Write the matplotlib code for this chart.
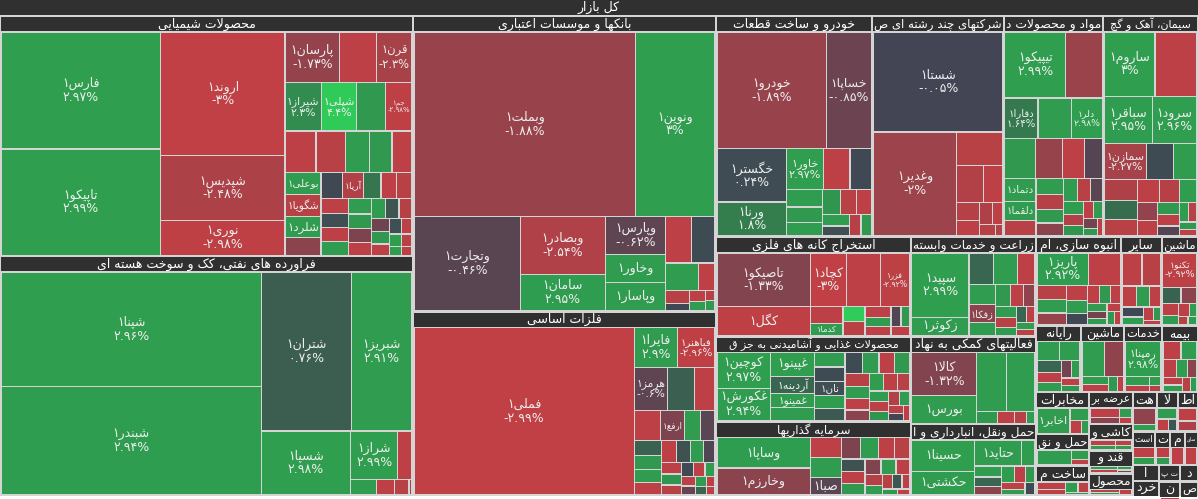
import matplotlib
matplotlib.use("Agg")
import matplotlib.pyplot as plt
from matplotlib.patches import Rectangle
from matplotlib.colors import LinearSegmentedColormap

plt.rcParams['font.family'] = ['DejaVu Sans']

# ---- data: (symbol, change %, market value) per sector ----
title = "کل بازار"

chem = [("فارس۱", 2.97, 20.3), ("تاپیکو۱", 2.99, 18.4), ("اروند۱", -3.0, 16.7), ("شپدیس۱", -2.48, 8.7),
        ("نوری۱", -2.98, 4.7), ("پارسان۱", -1.73, 3.0), ("", -2.9, 2.05), ("قرن۱", -2.3, 1.95),
        ("شیراز۱", 2.3, 1.9), ("شپلی۱", 4.4, 1.85), ("", 2.8, 1.5), ("جم۱", -2.98, 1.4),
        ("", -2.9, 1.38), ("", -2.8, 1.33), ("", 2.9, 1.06), ("", 2.8, 1.01), ("", -2.9, 0.9),
        ("بوعلی۱", 2.9, 0.87), ("شگویا۱", -2.8, 0.85), ("شلرد۱", 2.9, 0.83), ("", -1.5, 0.68),
        ("", 0.1, 0.62), ("آریا۱", -2.6, 0.6), ("", 1.5, 0.5), ("", -2.9, 0.45),
        ("", -2.8, 0.44), ("", -2.9, 0.43), ("", 0.3, 0.43), ("", -2.9, 0.42), ("", 2.9, 0.4), ("", 2.9, 0.38),
        ("", 2.8, 0.36), ("", -1.2, 0.34), ("", -2.9, 0.32), ("", 2.9, 0.3), ("", 0.5, 0.3), ("", -2.7, 0.28),
        ("", -0.9, 0.26), ("", 2.8, 0.24), ("", -2.9, 0.22), ("", 0.3, 0.2), ("", -2.9, 0.18), ("", 2.9, 0.16),
        ("", -2.8, 0.14), ("", 2.9, 0.12), ("", -2.9, 0.1)]
oil = [("شپنا۱", 2.96, 32.3), ("شبندر۱", 2.94, 30.7), ("شتران۱", 0.76, 15.5), ("شبریز۱", 2.91, 10.5),
       ("شسپا۱", 2.98, 6.2), ("شراز۱", 2.99, 2.5), ("", -2.9, 0.75), ("", 2.9, 0.43), ("", -2.9, 0.29),
       ("", -2.8, 0.24), ("", -2.5, 0.05)]
banks = [("وبملت۱", -1.88, 43.8), ("ونوین۱", 3.0, 15.7), ("وتجارت۱", -0.46, 10.8), ("وبصادر۱", -2.54, 5.25),
         ("سامان۱", 2.95, 3.31), ("وپارس۱", -0.62, 2.45), ("وخاور۱", 2.9, 1.85), ("وپاسار۱", 2.9, 1.82),
         ("", -2.9, 1.31), ("", 0.2, 1.16), ("", 2.9, 0.97), ("", -2.9, 0.5), ("", -2.8, 0.32), ("", 0.1, 0.2),
         ("", -2.9, 0.18), ("", 2.9, 0.16), ("", -2.7, 0.1), ("", 2.8, 0.1)]
metals = [("فملی۱", -2.99, 41.0), ("فایرا۱", 2.9, 1.9), ("فباهنر۱", -2.96, 1.65), ("هرمز۱", -0.6, 1.6),
          ("", 0.8, 1.3), ("", -2.9, 1.0), ("", -2.9, 0.87), ("ارفع۱", -1.2, 0.8), ("", 2.9, 0.55),
          ("", -0.5, 0.48), ("", 0.9, 0.45), ("", 2.8, 0.42), ("", 2.9, 0.4), ("", -2.9, 0.38),
          ("", -2.9, 0.35), ("", 0.4, 0.33), ("", 2.9, 0.3), ("", -0.3, 0.28), ("", -2.9, 0.26), ("", 2.7, 0.24),
          ("", -2.8, 0.22), ("", 0.2, 0.2), ("", -2.9, 0.18), ("", 2.9, 0.16), ("", -2.9, 0.15), ("", -0.8, 0.14),
          ("", 2.9, 0.12), ("", -2.9, 0.1), ("", 1.0, 0.1), ("", -2.9, 0.08)]
auto = [("خودرو۱", -1.89, 14.1), ("خساپا۱", -0.85, 5.7), ("خگستر۱", 0.24, 4.1), ("ورنا۱", 1.8, 2.6),
        ("خاور۱", 2.97, 1.65), ("", -2.9, 1.2), ("", 0.1, 0.95), ("", 2.9, 0.7), ("", 2.8, 0.6), ("", 2.9, 0.55),
        ("", 2.7, 0.5), ("", -2.8, 0.45), ("", -2.9, 0.4), ("", 2.9, 0.35), ("", 0.3, 0.3), ("", -2.7, 0.28),
        ("", 2.8, 0.25)]
multi = [("شستا۱", -0.05, 14.3), ("وغدیر۱", -2.0, 9.6), ("", -2.8, 1.7), ("", -2.6, 1.1), ("", -2.9, 0.8),
         ("", -2.7, 0.45), ("", -2.9, 0.4), ("", -2.5, 0.3), ("", -2.9, 0.25), ("", -2.8, 0.2), ("", -2.7, 0.1)]
pharma = [("تیپیکو۱", 2.99, 4.45), ("", -1.9, 2.7), ("دفارا۱", 1.64, 1.5), ("", 2.9, 1.5), ("دلر۱", 2.98, 1.42),
          ("", 2.8, 1.36), ("", -1.8, 1.18), ("", -2.9, 0.96), ("", -0.4, 0.8), ("دتماد۱", 2.9, 0.8),
          ("دلقما۱", 2.9, 0.64), ("", -2.8, 0.55), ("", 2.9, 0.5), ("", -2.7, 0.45), ("", 2.8, 0.42),
          ("", -1.5, 0.4), ("", 2.9, 0.35), ("", -2.8, 0.32), ("", -0.5, 0.3), ("", 2.9, 0.28), ("", -2.6, 0.25),
          ("", 2.7, 0.22), ("", -2.9, 0.2), ("", 2.9, 0.18), ("", -1.0, 0.15), ("", 2.8, 0.12), ("", -2.9, 0.1)]
cement = [("ساروم۱", 3.0, 3.6), ("", -2.9, 3.0), ("سباقر۱", 2.95, 2.5), ("سرود۱", 2.96, 2.35),
          ("سمازن۱", -2.27, 1.7), ("", 0.2, 1.07), ("", 2.9, 0.96), ("", -2.5, 0.75), ("", 1.2, 0.72),
          ("", -2.8, 0.6), ("", -2.9, 0.55), ("", -2.7, 0.5), ("", 2.9, 0.45), ("", -1.7, 0.4), ("", -2.9, 0.35),
          ("", 2.8, 0.3), ("", -2.9, 0.28), ("", -0.4, 0.25), ("", 2.9, 0.2), ("", -2.8, 0.18), ("", 2.8, 0.15),
          ("", -2.9, 0.12)]
extract = [("تاصیکو۱", -1.33, 6.1), ("کگل۱", -2.98, 3.3), ("کچاد۱", -3.0, 2.35), ("", -2.9, 2.25),
           ("فزر۱", -2.92, 1.9), ("", -2.9, 0.7), ("کدما۱", 2.9, 0.47), ("", 4.5, 0.4), ("", -2.8, 0.38),
           ("", -2.9, 0.35), ("", 2.9, 0.3), ("", -2.9, 0.28), ("", -0.3, 0.25), ("", 2.8, 0.22), ("", -2.9, 0.2)]
food = [("کوچین۱", 2.97, 2.45), ("غکورش۱", 2.94, 2.2), ("غپینو۱", 2.99, 1.35), ("آردینه۱", 1.0, 0.95),
        ("غمینو۱", 2.9, 0.78), ("", 2.9, 0.74), ("", 2.9, 0.55), ("", 0.2, 0.55), ("نان۱", 0.3, 0.52),
        ("", 2.9, 0.5), ("", 0.6, 0.48), ("", 0.2, 0.46), ("", 2.9, 0.44), ("", -2.9, 0.42), ("", 2.8, 0.4),
        ("", -2.8, 0.4), ("", 2.9, 0.38), ("", -2.9, 0.36), ("", -1.5, 0.34), ("", 2.9, 0.32), ("", -2.9, 0.3),
        ("", -2.8, 0.28), ("", 2.9, 0.26), ("", -2.9, 0.24), ("", 2.7, 0.22), ("", -2.6, 0.2), ("", 2.9, 0.18),
        ("", -2.9, 0.16), ("", 0.1, 0.14), ("", -2.9, 0.12)]
invest = [("وساپا۱", 2.93, 3.7), ("وخارزم۱", -1.5, 3.3), ("", -2.9, 0.81), ("", 2.9, 0.8), ("صبا۱", -0.5, 0.72),
          ("", -1.2, 0.55), ("", 2.9, 0.5), ("", -2.9, 0.45), ("", -2.8, 0.42), ("", 0.4, 0.4), ("", -2.9, 0.38),
          ("", 2.8, 0.35), ("", -1.3, 0.32), ("", 2.9, 0.3), ("", -2.9, 0.28), ("", -2.7, 0.25), ("", 2.9, 0.22),
          ("", -2.8, 0.2), ("", 0.5, 0.18), ("", -2.9, 0.15), ("", 2.8, 0.12), ("", -2.9, 0.1)]
agri = [("سپید۱", 2.99, 4.5), ("زکوثر۱", 2.9, 1.3), ("", 1.0, 0.97), ("", 2.9, 0.92), ("", -2.9, 0.68),
        ("", 2.9, 0.65), ("زفکا۱", -1.5, 0.6), ("", 2.9, 0.42), ("", 2.8, 0.4), ("", -2.9, 0.35), ("", -1.6, 0.3),
        ("", 2.9, 0.28), ("", -2.8, 0.25), ("", 2.9, 0.22), ("", 1.0, 0.2), ("", -2.9, 0.17), ("", 2.9, 0.15),
        ("", -2.8, 0.14)]
aux = [("کالا۱", -1.32, 3.55), ("بورس۱", 2.9, 2.25), ("", 2.9, 2.2), ("", 2.9, 2.15), ("", 2.8, 0.3),
       ("", -2.9, 0.25), ("", -2.8, 0.18), ("", 2.9, 0.12)]
transport = [("حسینا۱", 3.0, 2.6), ("حکشتی۱", 2.9, 2.0), ("حتاید۱", 2.89, 1.6), ("", 2.9, 0.46), ("", 2.9, 0.4),
             ("", 1.0, 0.35), ("", -1.5, 0.3), ("", 2.9, 0.28), ("", -2.9, 0.25), ("", 2.8, 0.22), ("", -2.9, 0.2),
             ("", 2.9, 0.18), ("", 0.2, 0.16)]
constr = [("پاریز۱", 2.92, 2.1), ("", -2.9, 1.3), ("", -2.8, 0.55), ("", 2.9, 0.5), ("", -1.8, 0.45),
          ("", -2.9, 0.4), ("", 2.9, 0.35), ("", 0.1, 0.3), ("", -2.9, 0.28), ("", 2.8, 0.25), ("", -2.9, 0.22),
          ("", 2.9, 0.2), ("", -1.0, 0.18), ("", 2.9, 0.16), ("", -2.9, 0.14), ("", 2.8, 0.12), ("", -2.9, 0.1)]
other = [("", -2.9, 0.85), ("", -2.8, 0.8), ("", -2.9, 0.4), ("", 2.9, 0.35), ("", -2.9, 0.3), ("", 0.1, 0.28),
         ("", 2.9, 0.22), ("", -2.9, 0.18), ("", 2.8, 0.12), ("", -2.9, 0.1)]
machine = [("تکنو۱", -2.92, 1.55), ("", 0.9, 0.4), ("", -1.5, 0.35), ("", -2.9, 0.25), ("", 2.9, 0.2),
           ("", -2.9, 0.18), ("", 2.9, 0.12), ("", -2.8, 0.1), ("", 2.9, 0.1)]
computer = [("", 2.9, 0.6), ("", 2.9, 0.55), ("", 1.0, 0.4), ("", -2.9, 0.35), ("", 2.9, 0.3), ("", -1.0, 0.25),
            ("", 2.9, 0.2), ("", -2.9, 0.2), ("", 2.8, 0.15)]
electric = [("", 2.9, 1.1), ("", -1.6, 0.95), ("", 2.9, 0.3), ("", -2.9, 0.25), ("", 2.8, 0.18), ("", -2.9, 0.12)]
services = [("رمپنا۱", 2.98, 1.75), ("", 2.9, 0.3), ("", -2.9, 0.2), ("", 2.9, 0.15), ("", -2.8, 0.1)]
insurance = [("", -2.9, 0.45), ("", 2.9, 0.4), ("", -2.9, 0.35), ("", 2.9, 0.3), ("", -1.5, 0.25),
             ("", -2.9, 0.2), ("", 2.9, 0.18), ("", -2.8, 0.15), ("", 2.9, 0.12)]
telecom = [("اخابر۱", 2.9, 1.45), ("", 2.9, 0.4), ("", -2.9, 0.25), ("", 2.9, 0.15)]
shipping = [("", 2.9, 1.15), ("", 2.9, 0.35), ("", -2.9, 0.2)]
metalprod = [("", -2.9, 0.5), ("", -2.8, 0.4), ("", 2.9, 0.3), ("", -2.9, 0.25), ("", 2.9, 0.15)]
power = [("", -2.9, 0.6), ("", -1.5, 0.4), ("", 2.9, 0.25), ("", -2.9, 0.15)]
tiles = [("", -2.9, 0.4), ("", 2.9, 0.3), ("", -2.8, 0.25), ("", 2.9, 0.2)]
sugar = [("", 2.9, 0.35), ("", -2.9, 0.3), ("", 2.9, 0.2), ("", -1.0, 0.15)]
paper = [("", -2.9, 0.4), ("", 2.9, 0.3), ("", -2.9, 0.28)]
hotel = [("", -1.6, 0.7), ("", 2.9, 0.25)]
rubber = [("", 2.9, 0.4), ("", -2.9, 0.24), ("", 0.5, 0.2)]
infotech = [("", -2.9, 0.45), ("", -2.5, 0.35)]
coal = [("", -2.9, 0.45), ("", 2.9, 0.31)]
tobacco = [("", -2.9, 0.3), ("", 2.9, 0.2)]
textile = [("", -2.9, 0.48)]
minerals = [("", -2.9, 0.45)]
misc = [("", 0.1, 0.42)]
retail = [("", -2.9, 0.4)]
wood = [("", 2.9, 0.35)]
drinks = [("", -2.9, 0.3)]
leather = [("", 2.9, 0.3)]
fund = [("", -2.9, 0.25)]

sectors = [("محصولات شیمیایی", chem), ("فراورده های نفتی، کک و سوخت هسته ای", oil),
           ("بانکها و موسسات اعتباری", banks), ("فلزات اساسی", metals), ("خودرو و ساخت قطعات", auto),
           ("شرکتهای چند رشته ای ص", multi), ("مواد و محصولات د", pharma), ("سیمان، آهک و گچ", cement),
           ("استخراج کانه های فلزی", extract), ("محصولات غذایی و آشامیدنی به جز ق", food),
           ("سرمایه گذاریها", invest), ("زراعت و خدمات وابسته", agri), ("فعالیتهای کمکی به نهاد", aux),
           ("حمل ونقل، انبارداری و ا", transport), ("انبوه سازی، ام", constr), ("سایر", other),
           ("ماشین", machine), ("رایانه", computer), ("ماشین", electric), ("خدمات", services),
           ("بیمه", insurance), ("مخابرات", telecom), ("حمل و نق", shipping), ("ساخت م", metalprod),
           ("عرضه بر", power), ("کاشی و", tiles), ("قند و", sugar), ("محصول", paper), ("هت", hotel),
           ("لا", rubber), ("اط", infotech), ("است", coal), ("ت", tobacco), ("م", textile), ("سای", minerals),
           ("ا", misc), ("خرد", retail), ("ت پ", wood), ("ن", drinks), ("د", leather), ("ص", fund)]

# ---- minimal Persian shaping (DejaVu has the presentation forms) ----
DUAL = {'ب': 0xFE8F, 'ت': 0xFE95, 'ث': 0xFE99, 'ج': 0xFE9D, 'ح': 0xFEA1, 'خ': 0xFEA5, 'س': 0xFEB1,
        'ش': 0xFEB5, 'ص': 0xFEB9, 'ض': 0xFEBD, 'ط': 0xFEC1, 'ظ': 0xFEC5, 'ع': 0xFEC9, 'غ': 0xFECD,
        'ف': 0xFED1, 'ق': 0xFED5, 'ل': 0xFEDD, 'م': 0xFEE1, 'ن': 0xFEE5, 'ه': 0xFEE9, 'ي': 0xFEF1,
        'ئ': 0xFE89, 'پ': 0xFB56, 'چ': 0xFB7A, 'ک': 0xFB8E, 'گ': 0xFB92, 'ی': 0xFBFC}
RIGHT = {'ا': 0xFE8D, 'آ': 0xFE81, 'د': 0xFEA9, 'ذ': 0xFEAB, 'ر': 0xFEAD, 'ز': 0xFEAF, 'ژ': 0xFB8A,
         'و': 0xFEED, 'ة': 0xFE93, 'أ': 0xFE83, 'إ': 0xFE87, 'ؤ': 0xFE85}


def fa(text):
    out = []
    n = len(text)
    i = 0
    while i < n:
        c = text[i]
        prev = i > 0 and text[i - 1] in DUAL
        if c == 'ل' and i + 1 < n and text[i + 1] in ('ا', 'آ'):
            base = 0xFEFB if text[i + 1] == 'ا' else 0xFEF5
            out.append(chr(base + (1 if prev else 0)))
            i += 2
            continue
        nxt = i + 1 < n and (text[i + 1] in DUAL or text[i + 1] in RIGHT)
        if c in RIGHT:
            out.append(chr(RIGHT[c] + (1 if prev else 0)))
        elif c in DUAL:
            b = DUAL[c]
            out.append(chr(b + (3 if prev and nxt else 1 if prev else 2 if nxt else 0)))
        else:
            out.append(c)
        i += 1
    return ''.join(out)[::-1]


def pct(v):
    s = f"{v:g}%"
    return s.translate(str.maketrans("0123456789", "۰۱۲۳۴۵۶۷۸۹"))


# ---- squarified layout (d3 style) ----
PHI = (1 + 5 ** 0.5) / 2


def squarify(vals, x0, y0, x1, y1):
    rects = []
    value = sum(vals)
    n = len(vals)
    i0 = 0
    while i0 < n:
        dx, dy = x1 - x0, y1 - y0
        i1 = i0
        s = vals[i1]
        i1 += 1
        vmin = vmax = s
        alpha = max(dy / dx, dx / dy) / (value * PHI)
        beta = s * s * alpha
        best = max(vmax / beta, beta / vmin)
        while i1 < n:
            v = vals[i1]
            s2 = s + v
            mn, mx = min(vmin, v), max(vmax, v)
            beta = s2 * s2 * alpha
            r = max(mx / beta, beta / mn)
            if r > best:
                break
            s, vmin, vmax, best = s2, mn, mx, r
            i1 += 1
        row = vals[i0:i1]
        if dx < dy:
            h = dy * s / value
            xx = x0
            for v in row:
                w = dx * v / s
                rects.append((xx, y0, w, h))
                xx += w
            y0 += h
        else:
            w = dx * s / value
            yy = y0
            for v in row:
                h = dy * v / s
                rects.append((x0, yy, w, h))
                yy += h
            x0 += w
        value -= s
        i0 = i1
    return rects


def to_disp(r, L, D):
    return (D[0] + (r[0] - L[0]) / L[2] * D[2], D[1] + (r[1] - L[1]) / L[3] * D[3],
            r[2] / L[2] * D[2], r[3] / L[3] * D[3])


cmap = LinearSegmentedColormap.from_list(
    "fv", [(0.0, "#f63538"), (1 / 6, "#bf4045"), (2 / 6, "#8b444e"), (0.5, "#414554"),
           (4 / 6, "#35764e"), (5 / 6, "#2f9e4f"), (1.0, "#30cc5a")])


def color(v):
    return cmap(min(max((v + 4.5) / 9.0, 0), 1))


W, H = 1198, 499
fig = plt.figure(figsize=(W / 100, H / 100), dpi=100)
fig.patch.set_facecolor("#d4d4d4")
ax = fig.add_axes([0, 0, 1, 1])
ax.set_xlim(0, W)
ax.set_ylim(H, 0)
ax.axis("off")
renderer = fig.canvas.get_renderer()

HEAD = "#303030"
HDR = 16


def fit_text(x, y, s, fs, maxw, maxh, **kw):
    t = ax.text(x, y, s, fontsize=fs, ha="center", va="center", **kw)
    bb = t.get_window_extent(renderer)
    k = min(1.0, maxw / max(bb.width, 1), maxh / max(bb.height, 1))
    if k < 1:
        t.set_fontsize(fs * k)
    return t


# title bar
ax.add_patch(Rectangle((0, 0), W, 15, facecolor=HEAD, edgecolor="none"))
fit_text(W / 2, 7.5, fa(title), 9, 200, 14, color="white")
ax.add_patch(Rectangle((0, 496), W, 3, facecolor="white", edgecolor="none"))

root_L = (0, 0, float(W), float(H))
root_D = (0, 16, W, 480)

order = sorted(sectors, key=lambda s: -sum(c[2] for c in s[1]))
totals = [sum(c[2] for c in s[1]) for s in order]
sec_rects = squarify(totals, 0, 0, root_L[2], root_L[3])

for (name, stocks), lr in zip(order, sec_rects):
    ox, oy, ow, oh = to_disp(lr, root_L, root_D)
    ax.add_patch(Rectangle((ox + 1, oy + 1), ow - 2, HDR - 2, facecolor=HEAD, edgecolor="none"))
    fit_text(ox + ow / 2, oy + HDR / 2, fa(name), 9, ow - 4, HDR - 2, color="white")
    inner = (ox + 1, oy + HDR, ow - 2, oh - HDR - 1)
    cells = sorted(stocks, key=lambda c: -c[2])
    crs = squarify([c[2] for c in cells], lr[0], lr[1], lr[0] + lr[2], lr[1] + lr[3])
    for (sym, chg, val), cr in zip(cells, crs):
        x, y, w, h = to_disp(cr, lr, inner)
        ax.add_patch(Rectangle((x + 0.6, y + 0.6), max(w - 1.2, 0.3), max(h - 1.2, 0.3),
                               facecolor=color(chg), edgecolor="none"))
        if sym and w > 12 and h > 8:
            label = fa(sym) + ("\n" + pct(chg) if h >= 31 else "")
            fit_text(x + w / 2, y + h / 2, label, 9, w - 4, h - 3, color="#eeeeee", linespacing=1.05)

fig.savefig("out.png", dpi=100, facecolor=fig.get_facecolor())
